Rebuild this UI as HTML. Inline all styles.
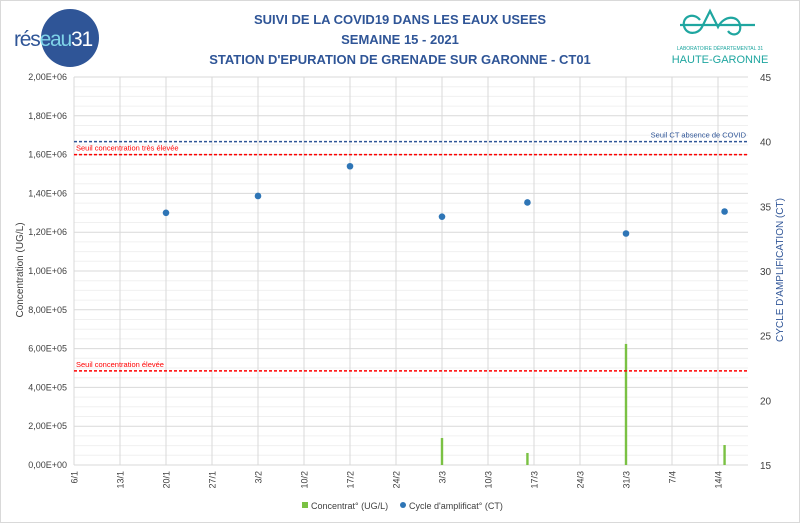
<!DOCTYPE html>
<html><head><meta charset="utf-8"><style>
body{margin:0;background:#fff;}
svg{display:block;font-family:"Liberation Sans",sans-serif;}
</style></head><body>
<svg width="800" height="523" viewBox="0 0 800 523">
<rect x="0.5" y="0.5" width="799" height="522" fill="#fff" stroke="#d9d9d9"/>
<g>
<circle cx="70" cy="38" r="29" fill="#2f5597"/>
<text x="14" y="46" font-size="21" fill="#2f5597" letter-spacing="-1.2">rés<tspan fill="#7fd3e8">eau</tspan><tspan fill="#fff">31</tspan></text>
</g>
<g>
<path d="M680 25 h75 M700 20 c-6 -8 -18 -4 -16 6 c2 9 14 9 18 1 l8 -16 l8 16 c6 -12 20 -12 22 -2 c2 10 -8 12 -12 6" fill="none" stroke="#1fa6a0" stroke-width="2.2"/>
<text x="720" y="50" font-size="5" text-anchor="middle" fill="#1fa6a0">LABORATOIRE DÉPARTEMENTAL 31</text>
<text x="720" y="63" font-size="11" text-anchor="middle" fill="#1fa6a0">HAUTE-GARONNE</text>
</g>
<g font-size="13" font-weight="bold" fill="#2f5597" text-anchor="middle">
<text x="400" y="24">SUIVI DE LA COVID19 DANS LES EAUX USEES</text>
<text x="400" y="44">SEMAINE 15 - 2021</text>
<text x="400" y="64">STATION D'EPURATION DE GRENADE SUR GARONNE - CT01</text>
</g>
<g id="grid"></g>
<g id="marks"></g>
<text transform="translate(23,270) rotate(-90)" font-size="10" text-anchor="middle" fill="#404040">Concentration (UG/L)</text>
<text transform="translate(783,270) rotate(-90)" font-size="10" text-anchor="middle" fill="#2f5597">CYCLE D'AMPLIFICATION (CT)</text>
<g font-size="9" fill="#404040">
<rect x="302" y="502" width="6" height="6" fill="#7ac143"/>
<text x="311" y="509">Concentrat° (UG/L)</text>
<circle cx="403" cy="505" r="3" fill="#2e75b6"/>
<text x="409" y="509">Cycle d'amplificat° (CT)</text>
</g>
</svg>
<script>
const xTickLabels=["6/1","13/1","20/1","27/1","3/2","10/2","17/2","24/2","3/3","10/3","17/3","24/3","31/3","7/4","14/4"];
const leftTicks=[0,200000,400000,600000,800000,1000000,1200000,1400000,1600000,1800000,2000000];
const leftTickLabels=["0,00E+00","2,00E+05","4,00E+05","6,00E+05","8,00E+05","1,00E+06","1,20E+06","1,40E+06","1,60E+06","1,80E+06","2,00E+06"];
const rightTicks=[15,20,25,30,35,40,45];
const ctDays=[14,28,42,56,69,84,99];
const ctValues=[34.5,35.8,38.1,34.2,35.3,32.9,34.6];
const concDays=[56,69,84,99];
const concValues=[139000,62000,624000,103000];
const seuilTresEleve=1600000, seuilEleve=485000, seuilCT=40;

const X0=74,X1=748,Y0=465,Y1=77,PXDAY=46/7;
const x=d=>X0+d*PXDAY;
const yL=v=>Y0-(v/2000000)*(Y0-Y1);
const yR=v=>Y0-((v-15)/30)*(Y0-Y1);
const NS="http://www.w3.org/2000/svg";
function mk(parent,tag,attrs){const e=document.createElementNS(NS,tag);for(const k in attrs)e.setAttribute(k,attrs[k]);parent.appendChild(e);return e;}
const grid=document.getElementById('grid'),marks=document.getElementById('marks');
for(let v=0;v<=2000000;v+=50000){
  const l=mk(grid,'line',{x1:X0,x2:X1,y1:yL(v),y2:yL(v),stroke:v%200000===0?'#d9d9d9':'#f0f0f0','stroke-width':1});
  
  
}
xTickLabels.forEach((t,i)=>{
  const xx=x(i*7);
  const l=mk(grid,'line',{x1:xx,x2:xx,y1:Y1,y2:Y0,stroke:'#d9d9d9'});
  
  
  const tx=mk(grid,'text',{transform:`translate(${xx+3.5},${Y0+6}) rotate(-90)`,'font-size':9,'text-anchor':'end',fill:'#404040'});
  tx.textContent=t;
  
  
});
leftTicks.forEach((v,i)=>{
  const tx=mk(grid,'text',{x:X0-7,y:yL(v)+3,'font-size':9,'text-anchor':'end',fill:'#404040'});
  tx.textContent=leftTickLabels[i];
  
  
});
rightTicks.forEach(v=>{
  const tx=mk(grid,'text',{x:760,y:yR(v)+4,'font-size':10,fill:'#404040'});
  tx.textContent=v;
  
  
});
concValues.forEach((v,i)=>{
  const r=mk(marks,'rect',{x:x(concDays[i])-1.2,y:yL(v),width:2.4,height:Y0-yL(v),fill:'#7ac143'});
  
  
});
function thr(y,col,label,lx,anchor,name){
  const l=mk(marks,'line',{x1:X0,x2:X1,y1:y,y2:y,stroke:col,'stroke-width':1.5,'stroke-dasharray':'3 2'});
  
  
  const t=mk(marks,'text',{x:lx,y:y-4,'font-size':7.5,fill:col,'text-anchor':anchor});
  t.textContent=label;
  
  
}
thr(yR(seuilCT),'#2f5597','Seuil CT absence de COVID',X1-2,'end','threshold-ct');
thr(yL(seuilTresEleve),'#ff0000','Seuil concentration très élevée',X0+2,'start','threshold-tres-elevee');
thr(yL(seuilEleve),'#ff0000','Seuil concentration élevée',X0+2,'start','threshold-elevee');
ctValues.forEach((v,i)=>{
  const c=mk(marks,'circle',{cx:x(ctDays[i]),cy:yR(v),r:3.3,fill:'#2e75b6'});
  
  
});
</script>
</body></html>
